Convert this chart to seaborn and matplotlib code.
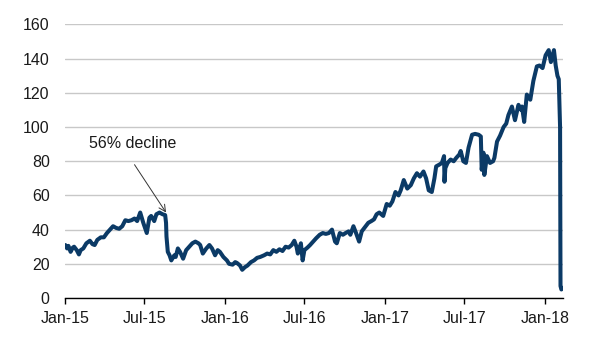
import matplotlib
matplotlib.use("Agg")
import matplotlib.pyplot as plt
import pandas as pd
import seaborn as sns

# Index level, daily close sampled at irregular intervals
dates = [
    "2015-01-02", "2015-01-06", "2015-01-09", "2015-01-14", "2015-01-19", "2015-01-22",
    "2015-01-28", "2015-02-02", "2015-02-06", "2015-02-12", "2015-02-19", "2015-02-27",
    "2015-03-05", "2015-03-10", "2015-03-16", "2015-03-24", "2015-03-31", "2015-04-07",
    "2015-04-14", "2015-04-21", "2015-04-28", "2015-05-05", "2015-05-12", "2015-05-19",
    "2015-05-26", "2015-06-02", "2015-06-09", "2015-06-15", "2015-06-22", "2015-06-29",
    "2015-07-07", "2015-07-13", "2015-07-17", "2015-07-24", "2015-07-29", "2015-08-05",
    "2015-08-12", "2015-08-18", "2015-08-20", "2015-08-21", "2015-08-24", "2015-08-28",
    "2015-09-01", "2015-09-08", "2015-09-11", "2015-09-16", "2015-09-21", "2015-09-28",
    "2015-10-05", "2015-10-12", "2015-10-19", "2015-10-26", "2015-11-02", "2015-11-06",
    "2015-11-12", "2015-11-20", "2015-11-27", "2015-12-03", "2015-12-10", "2015-12-16",
    "2015-12-21", "2015-12-29", "2016-01-06", "2016-01-11", "2016-01-19", "2016-01-25",
    "2016-01-29", "2016-02-05", "2016-02-10", "2016-02-16", "2016-02-22", "2016-03-01",
    "2016-03-08", "2016-03-15", "2016-03-22", "2016-03-31", "2016-04-07", "2016-04-14",
    "2016-04-21", "2016-04-28", "2016-05-05", "2016-05-12", "2016-05-19", "2016-05-26",
    "2016-06-02", "2016-06-08", "2016-06-13", "2016-06-16", "2016-06-23", "2016-06-27",
    "2016-07-01", "2016-07-08", "2016-07-14", "2016-07-21", "2016-07-28", "2016-08-05",
    "2016-08-12", "2016-08-19", "2016-08-26", "2016-09-02", "2016-09-09", "2016-09-13",
    "2016-09-20", "2016-09-27", "2016-10-03", "2016-10-10", "2016-10-14", "2016-10-21",
    "2016-10-27", "2016-11-03", "2016-11-09", "2016-11-15", "2016-11-24", "2016-12-01",
    "2016-12-07", "2016-12-13", "2016-12-19", "2016-12-28", "2017-01-05", "2017-01-12",
    "2017-01-18", "2017-01-25", "2017-02-01", "2017-02-06", "2017-02-13", "2017-02-21",
    "2017-03-01", "2017-03-08", "2017-03-15", "2017-03-22", "2017-03-30", "2017-04-05",
    "2017-04-11", "2017-04-18", "2017-04-24", "2017-04-28", "2017-05-05", "2017-05-11",
    "2017-05-16", "2017-05-17", "2017-05-19", "2017-05-24", "2017-05-31", "2017-06-07",
    "2017-06-13", "2017-06-20", "2017-06-23", "2017-06-29", "2017-07-05", "2017-07-11",
    "2017-07-19", "2017-07-26", "2017-08-03", "2017-08-08", "2017-08-10", "2017-08-14",
    "2017-08-16", "2017-08-22", "2017-08-29", "2017-09-05", "2017-09-08", "2017-09-14",
    "2017-09-21", "2017-09-29", "2017-10-05", "2017-10-10", "2017-10-18", "2017-10-25",
    "2017-11-02", "2017-11-08", "2017-11-10", "2017-11-15", "2017-11-21", "2017-11-29",
    "2017-12-06", "2017-12-14", "2017-12-20", "2017-12-27", "2018-01-03", "2018-01-10",
    "2018-01-15", "2018-01-22", "2018-01-26", "2018-01-30", "2018-02-02", "2018-02-05",
    "2018-02-06", "2018-02-08", "2018-02-12",
]
values = [
    31, 29, 30.5, 27, 29.5, 30,
    28, 25.5, 28, 29, 32, 33.5,
    31.5, 31, 34, 35.5, 35.5, 38,
    40, 42, 41, 40.5, 42, 45.5,
    45, 45.5, 46.5, 45, 50, 44,
    38, 47, 48, 45, 49, 50,
    49, 48.5, 44, 36, 27, 25,
    22, 25, 24, 29, 27, 23,
    28, 30, 32, 33, 32, 31,
    26, 29, 31, 29, 25, 28,
    27, 24, 22, 20, 19.5, 21,
    20.5, 19, 16.5, 18, 19, 21,
    22, 23.5, 24, 25, 26, 25.5,
    28, 27, 28.5, 27.5, 30, 29.5,
    31, 33.5, 30, 26, 32, 22,
    28, 29.5, 31, 33, 35, 37,
    38, 37.5, 38, 40, 33, 32,
    38, 37, 38, 39, 37, 42,
    38, 33, 39, 41, 44, 45,
    46, 49, 50, 48, 55, 54,
    56.5, 62, 60, 63, 69, 64,
    66, 70, 73, 71, 74, 70,
    63, 62, 70, 77, 78, 79,
    83, 68, 76, 79, 81, 80,
    82, 84, 86, 80, 79, 88,
    95.5, 96, 95.5, 94.5, 75, 85,
    72, 83, 79, 80, 82, 91.5,
    95, 100, 102, 107, 112, 104,
    113, 110, 112, 103, 119, 116,
    127, 135.5, 136, 134.5, 142, 145,
    138, 145, 136, 130, 128, 100,
    7, 5, 6,
]

tick_dates = ["2015-01-01", "2015-07-01", "2016-01-01", "2016-07-01",
              "2017-01-01", "2017-07-01", "2018-01-01"]
tick_labels = ["Jan-15", "Jul-15", "Jan-16", "Jul-16", "Jan-17", "Jul-17", "Jan-18"]
y_ticks = [0, 20, 40, 60, 80, 100, 120, 140, 160]

peak_date, peak_value = "2015-08-20", 50
note_text = "56% decline"

sns.set_theme(style="white")
plt.rcParams["font.family"] = ["Liberation Sans", "DejaVu Sans"]

df = pd.DataFrame({"date": pd.to_datetime(dates), "value": values})

fig = plt.figure(figsize=(6.01, 3.40), dpi=100)
ax = fig.add_axes([0.108, 0.1235, 0.829, 0.8045])

sns.lineplot(data=df, x="date", y="value", ax=ax, color="#0b3a66", linewidth=2.9)

ax.set_xlim(pd.Timestamp("2015-01-01"), pd.Timestamp("2018-02-12"))
ax.set_ylim(0, 160)
ax.set_yticks(y_ticks)
ax.set_yticklabels([str(v) for v in y_ticks], fontsize=11.5, color="#1a1a1a")
ax.set_xticks(pd.to_datetime(tick_dates))
ax.set_xticklabels(tick_labels, fontsize=11.5, color="#1a1a1a")

ax.yaxis.grid(True, color="#c8c8c8", linewidth=1.0)
ax.xaxis.grid(False)
ax.set_axisbelow(True)
for side in ["top", "right", "left"]:
    ax.spines[side].set_visible(False)
ax.spines["bottom"].set_color("black")
ax.spines["bottom"].set_linewidth(1.0)

ax.tick_params(axis="x", direction="out", length=4, width=1, color="black",
               bottom=True, pad=5)
ax.tick_params(axis="y", length=0, pad=11)
ax.set_xlabel("")
ax.set_ylabel("")

ax.text(pd.Timestamp("2015-02-24"), 90.5, note_text, fontsize=11.5,
        ha="left", va="center", color="#1a1a1a")
ax.annotate("", xy=(pd.Timestamp(peak_date), peak_value),
            xytext=(pd.Timestamp("2015-06-09"), 78),
            arrowprops=dict(arrowstyle="->", color="#333333", lw=0.7,
                            shrinkA=0, shrinkB=0, mutation_scale=12))

fig.savefig("out.png", dpi=100)
